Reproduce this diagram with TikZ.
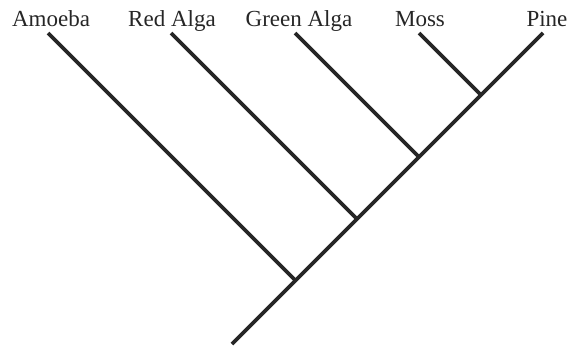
\documentclass[tikz,border=0pt]{standalone}
\usepackage{fontspec}
\setmainfont{Liberation Serif}
\begin{document}
\begin{tikzpicture}[x=1pt,y=-1pt,
  taxon/.style={anchor=base,inner sep=0pt,font=\fontsize{23}{27}\selectfont,text=black!85},
  branch/.style={line width=3.6pt,draw=black!85}]
\useasboundingbox (0,0) rectangle (571,346);
% labels
\node[taxon] (amoeba) at (51,26) {Amoeba};
\node[taxon] (red) at (172,26) {Red Alga};
\node[taxon] (green) at (299,26) {Green Alga};
\node[taxon] (moss) at (420,26) {Moss};
\node[taxon] (pine) at (547,26) {Pine};
% tips
\coordinate (tA) at (48,33);
\coordinate (tR) at (171,33);
\coordinate (tG) at (295,33);
\coordinate (tM) at (419,33);
\coordinate (tP) at (543,33);
% junctions and root
\coordinate (root) at (232,344);
\coordinate (jA) at (295.5,280.5);
\coordinate (jR) at (357,219);
\coordinate (jG) at (419,157);
\coordinate (jM) at (481,95);
\draw[branch] (root) -- (tP);
\draw[branch] (tA) -- (jA);
\draw[branch] (tR) -- (jR);
\draw[branch] (tG) -- (jG);
\draw[branch] (tM) -- (jM);
\end{tikzpicture}
\end{document}
